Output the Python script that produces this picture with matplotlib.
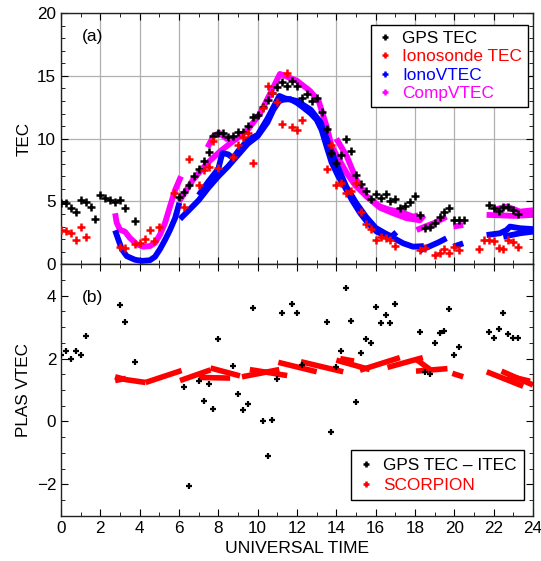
import matplotlib
matplotlib.use("Agg")
import matplotlib.pyplot as plt
from matplotlib.lines import Line2D
from matplotlib.ticker import MultipleLocator

plt.rcParams['font.family'] = ['Liberation Sans', 'DejaVu Sans']

# ---------------- data: panel (a) ----------------
gps_t = [0, 0.25, 0.5, 0.75, 1.0, 1.25, 1.5, 1.75,
         2.0, 2.25, 2.5, 2.75, 3.0, 3.25, 3.75,
         6.0, 6.25, 6.5, 6.75, 7.0, 7.25, 7.5, 7.75, 8.0, 8.25, 8.5, 8.75, 9.0, 9.25,
         9.5, 9.75, 10.0, 10.25, 10.5, 10.75, 11.0, 11.25, 11.5, 11.75, 12.0, 12.25,
         12.5, 12.75, 13.0,
         13.25, 13.5, 13.75, 14.0, 14.25, 14.5, 14.75, 15.0, 15.25, 15.5, 15.75, 16.0,
         16.25, 16.5, 16.75, 17.0, 17.25, 17.5, 17.75, 18.0, 18.25, 18.5, 18.75, 19.0,
         19.25, 19.5, 19.75, 20.0, 20.25, 20.5,
         21.75, 22.0, 22.25, 22.5, 22.75, 23.0, 23.25]
gps_v = [4.86, 4.91, 4.51, 4.17, 5.12, 4.94, 4.59, 3.61,
         5.52, 5.31, 5.10, 4.94, 5.10, 4.46, 3.47,
         5.39, 5.76, 6.34, 7.04, 7.62, 8.23, 8.95, 10.22, 10.44, 10.44, 10.12, 10.22, 10.49, 10.49,
         11.02, 11.71, 11.90, 12.51, 13.09, 13.65, 14.10, 14.53, 14.20, 14.58, 14.20, 13.27,
         13.55, 13.00, 13.27,
         12.16, 10.80, 8.84, 8.05, 8.71, 9.96, 9.03, 7.14, 6.40, 5.84, 5.20, 5.60,
         5.26, 5.58, 5.04, 5.20, 4.46, 4.67, 4.99, 5.42, 3.93, 2.87, 3.00, 3.31,
         3.75, 4.17, 4.49, 3.51, 3.51, 3.51,
         4.75, 4.46, 4.25, 4.59, 4.59, 4.30, 4.03]

iono_t = [0, 0.25, 0.5, 0.75, 1.0, 1.25, 3.0, 3.25, 3.75, 4.0, 4.25, 4.5, 4.75, 5.0,
          5.75, 6.25, 6.5, 7.0, 7.25, 7.5, 7.75, 8.0, 8.75, 9.0, 9.25, 9.5, 9.75,
          10.25, 10.5, 10.75, 11.0, 11.25, 11.5, 11.75, 12.0, 12.25,
          13.5, 13.75, 14.0, 14.25, 14.5, 14.75, 15.0, 15.25, 15.5, 15.75, 16.0, 16.25,
          16.5, 16.75, 17.0, 18.25, 18.5, 19.0, 19.25, 19.5, 19.75, 20.0, 20.25,
          21.25, 21.5, 21.75, 22.0, 22.25, 22.5, 22.75, 23.0, 23.25]
iono_v = [2.73, 2.65, 2.52, 1.94, 3.00, 2.20, 1.40, 1.30, 1.64, 1.67, 1.99, 2.70, 1.83, 3.00,
          5.70, 4.59, 8.40, 6.30, 7.51, 7.74, 9.80, 7.70, 8.50, 9.51, 10.10, 10.44, 8.10,
          12.43, 14.20, 13.60, 12.90, 11.13, 15.22, 10.94, 10.70, 11.52,
          7.58, 9.51, 6.30, 6.50, 5.71, 5.80, 6.50, 4.19, 3.20, 2.78, 1.90, 2.20,
          2.13, 1.96, 1.48, 1.15, 1.30, 0.74, 0.88, 1.24, 0.88, 1.38, 1.12,
          1.20, 1.94, 1.94, 1.88, 1.27, 1.24, 1.94, 1.78, 1.38]

# IonoVTEC tracks (time, TEC)
ionovtec_tracks = [
    [(2.75, 2.70), (2.92, 1.94), (3.09, 1.20), (3.34, 0.65), (3.76, 0.36), (4.10, 0.27),
     (4.52, 0.32), (4.78, 0.60), (5.03, 1.20), (5.29, 1.94), (5.54, 2.73), (5.80, 3.67),
     (6.02, 4.90)],
    [(6.05, 3.60), (6.50, 4.30), (7.00, 5.10), (7.50, 6.10), (8.00, 7.00), (8.50, 7.80),
     (9.00, 8.70), (9.50, 9.60), (10.00, 10.20), (10.50, 11.30), (10.80, 12.30),
     (11.10, 13.00), (11.30, 13.10), (11.65, 13.15), (12.00, 12.85), (12.30, 12.50),
     (12.70, 12.00), (13.00, 11.50), (13.25, 10.70), (13.50, 9.40), (13.76, 8.10),
     (14.10, 7.00), (14.45, 6.10), (14.80, 5.10), (15.20, 4.10), (15.60, 3.30),
     (16.05, 2.60), (16.40, 2.35), (16.80, 2.20), (17.05, 2.55)],
    [(7.00, 5.50), (7.50, 6.60), (8.00, 7.60), (8.20, 8.85), (8.50, 8.75), (8.75, 8.45),
     (9.00, 9.00), (9.50, 9.90), (10.00, 10.30), (10.50, 11.60), (10.90, 12.80),
     (11.10, 13.40), (11.40, 13.20), (12.00, 13.00), (12.70, 12.30), (13.20, 11.30),
     (13.60, 9.60), (14.00, 8.00), (14.50, 6.20), (15.00, 4.90), (15.50, 3.80),
     (16.00, 2.90), (16.50, 2.45), (16.90, 2.15)],
    [(16.90, 2.10), (17.40, 1.67), (17.90, 1.40), (18.45, 1.45)],
    [(18.25, 1.10), (18.70, 1.40), (19.20, 1.75), (19.60, 2.07)],
    [(19.95, 1.40), (20.45, 1.67)],
    [(21.64, 2.33), (22.32, 2.47), (22.66, 2.73), (22.83, 3.00), (23.34, 2.87), (24.0, 2.80)],
    [(22.49, 2.20), (23.34, 2.47), (24.0, 2.60)],
]

# CompVTEC tracks (time, TEC)
compvtec_tracks = [
    [(2.75, 4.06), (2.83, 3.30), (3.00, 2.75), (3.25, 2.60), (3.50, 2.10), (3.85, 1.60),
     (4.18, 1.40), (4.52, 1.45), (4.78, 1.70), (5.03, 2.35), (5.29, 3.30), (5.54, 4.60),
     (5.80, 5.90), (6.10, 7.00)],
    [(6.00, 5.00), (6.70, 6.70), (7.40, 8.00), (8.10, 9.00), (8.75, 9.80), (9.44, 10.60),
     (10.12, 12.00), (10.80, 14.10), (11.13, 15.15), (11.47, 14.95), (12.00, 14.60),
     (12.66, 13.80), (13.10, 13.00), (13.50, 11.00), (13.76, 9.40), (14.53, 7.25),
     (14.95, 6.30), (15.54, 5.40), (16.22, 4.60), (16.73, 4.33), (17.23, 4.19),
     (17.91, 3.79), (18.17, 3.90)],
    [(7.45, 9.30), (7.75, 10.20), (8.05, 10.45), (8.50, 9.90)],
    [(14.00, 10.00), (14.53, 8.60), (15.03, 6.70), (15.54, 5.40), (16.22, 4.50),
     (16.90, 4.06), (17.57, 3.67), (18.25, 3.50), (18.45, 3.90)],
    [(18.08, 2.73), (18.50, 3.00), (19.00, 3.30), (19.60, 3.79)],
    [(19.95, 3.00), (20.45, 3.13)],
    [(21.64, 3.93), (22.30, 3.90), (23.00, 3.85), (24.00, 3.93)],
    [(21.98, 4.33), (22.66, 4.59), (23.00, 4.40), (23.34, 4.19), (24.00, 4.30)],
]

# ---------------- data: panel (b) ----------------
diff_t = [0, 0.25, 0.5, 0.75, 1.0, 1.25, 3.0, 3.25, 3.75,
          6.25, 6.5, 7.0, 7.25, 7.5, 7.75, 8.0, 8.75, 9.0, 9.25, 9.5, 9.75,
          10.25, 10.5, 10.75, 11.0, 11.25, 11.75, 12.0, 12.25,
          13.5, 13.75, 14.0, 14.25, 14.5, 14.75, 15.0, 15.25, 15.5, 15.75, 16.0,
          16.25, 16.5, 16.75, 17.0,
          18.25, 18.5, 18.75, 19.0, 19.25, 19.5, 19.75, 20.0, 20.25,
          21.75, 22.0, 22.25, 22.5, 22.75, 23.0, 23.25]
diff_v = [2.10, 2.25, 1.98, 2.24, 2.12, 2.73, 3.70, 3.17, 1.88,
          1.11, -2.07, 1.30, 0.66, 1.20, 0.41, 2.62, 1.75, 0.88, 0.35, 0.54, 3.60,
          0.02, -1.11, 0.06, 1.35, 3.45, 3.75, 3.44, 1.78,
          3.17, -0.35, 1.74, 2.23, 4.24, 3.20, 0.61, 2.17, 2.61, 2.49, 3.65,
          3.12, 3.38, 3.12, 3.74,
          2.85, 1.56, 1.51, 2.49, 2.82, 2.89, 3.59, 2.10, 2.38,
          2.84, 2.67, 2.93, 3.44, 2.79, 2.65, 2.65]

# SCORPION tracks (time, PLAS VTEC)
scorpion_tracks = [
    [(2.75, 1.42), (3.30, 1.33), (4.30, 1.24)],
    [(2.75, 1.30), (3.30, 1.37)],
    [(4.30, 1.24), (6.13, 1.62)],
    [(6.05, 1.30), (7.60, 1.64)],
    [(7.60, 1.70), (9.10, 1.45)],
    [(7.00, 1.40), (8.60, 1.38)],
    [(9.20, 1.42), (11.10, 1.65)],
    [(9.60, 1.65), (11.50, 1.46)],
    [(11.05, 1.88), (13.00, 1.58)],
    [(12.20, 1.90), (14.35, 1.58)],
    [(14.00, 1.95), (15.70, 1.65)],
    [(14.20, 2.00), (14.90, 1.92)],
    [(15.20, 1.63), (17.23, 2.03)],
    [(16.60, 1.72), (18.40, 2.03)],
    [(18.05, 1.98), (18.75, 1.66)],
    [(18.05, 1.60), (19.65, 1.68)],
    [(19.90, 1.53), (20.45, 1.42)],
    [(21.65, 1.58), (23.50, 1.12)],
    [(22.40, 1.60), (24.00, 1.16)],
    [(22.70, 1.45), (23.85, 1.28)],
]

BLUE = '#0000ff'
MAG = '#ff00ff'
RED = '#ff0000'

fig = plt.figure(figsize=(5.41, 5.61), dpi=100)
ax1 = fig.add_axes([0.1128, 0.5289, 0.8724, 0.4479])
ax2 = fig.add_axes([0.1128, 0.0807, 0.8724, 0.4482])

# ---- panel (a)
for tr in ionovtec_tracks:
    xs, ys = zip(*tr)
    ax1.plot(xs, ys, color=BLUE, lw=4.2, solid_capstyle='butt', zorder=3)
for tr in compvtec_tracks:
    xs, ys = zip(*tr)
    ax1.plot(xs, ys, color=MAG, lw=4.2, solid_capstyle='butt', zorder=2)
ax1.plot(gps_t, gps_v, ls='none', marker='+', color='black', ms=6, mew=1.8, zorder=4)
ax1.plot(iono_t, iono_v, ls='none', marker='+', color=RED, ms=6, mew=1.8, zorder=5)

ax1.set_xlim(0, 24)
ax1.set_ylim(0, 20)
ax1.xaxis.set_major_locator(MultipleLocator(2))
ax1.xaxis.set_minor_locator(MultipleLocator(1))
ax1.yaxis.set_major_locator(MultipleLocator(5))
ax1.yaxis.set_minor_locator(MultipleLocator(1))
ax1.grid(True, which='major', color='#b0b0b0', lw=0.9)
ax1.set_axisbelow(True)
ax1.tick_params(labelbottom=False)
ax1.set_ylabel('TEC', fontsize=12.3)
ax1.text(0.045, 0.89, '(a)', transform=ax1.transAxes, fontsize=12.5)

h1 = [Line2D([], [], ls='none', marker='+', color=c, ms=5, mew=1.8)
      for c in ['black', RED, BLUE, MAG]]
leg1 = ax1.legend(h1, ['GPS TEC', 'Ionosonde TEC', 'IonoVTEC', 'CompVTEC'],
                  loc='upper right', bbox_to_anchor=(0.99, 0.953), fontsize=12.4,
                  fancybox=False, framealpha=1, edgecolor='black',
                  handlelength=0.9, handletextpad=0.55, borderpad=0.35,
                  labelspacing=0.2, borderaxespad=0.0)
leg1.get_frame().set_linewidth(1.0)
for txt, c in zip(leg1.get_texts(), ['black', RED, BLUE, MAG]):
    txt.set_color(c)

# ---- panel (b)
for tr in scorpion_tracks:
    xs, ys = zip(*tr)
    ax2.plot(xs, ys, color=RED, lw=4.0, solid_capstyle='butt', zorder=2)
ax2.plot(diff_t, diff_v, ls='none', marker='+', color='black', ms=5, mew=1.6, zorder=3)

ax2.set_xlim(0, 24)
ax2.set_ylim(-3, 5)
ax2.xaxis.set_major_locator(MultipleLocator(2))
ax2.xaxis.set_minor_locator(MultipleLocator(1))
ax2.yaxis.set_major_locator(MultipleLocator(2))
ax2.yaxis.set_minor_locator(MultipleLocator(0.5))
ax2.set_ylabel('PLAS VTEC', fontsize=12.3)
ax2.set_xlabel('UNIVERSAL TIME', fontsize=12.6)
ax2.text(0.045, 0.85, '(b)', transform=ax2.transAxes, fontsize=12.5)

h2 = [Line2D([], [], ls='none', marker='+', color=c, ms=5, mew=1.8)
      for c in ['black', RED]]
leg2 = ax2.legend(h2, ['GPS TEC \u2013 ITEC', 'SCORPION'],
                  loc='lower right', bbox_to_anchor=(0.981, 0.062), fontsize=12.4,
                  fancybox=False, framealpha=1, edgecolor='black',
                  handlelength=0.9, handletextpad=0.55, borderpad=0.42,
                  labelspacing=0.3, borderaxespad=0.0)
leg2.get_frame().set_linewidth(1.0)
for txt, c in zip(leg2.get_texts(), ['black', RED]):
    txt.set_color(c)

for ax in (ax1, ax2):
    ax.tick_params(which='both', direction='in', top=True, right=True, labelsize=12.3)
    ax.tick_params(which='major', length=5)
    ax.tick_params(which='minor', length=3)
    for s in ax.spines.values():
        s.set_linewidth(1.0)
        s.set_color('#222222')

fig.savefig('out.png', dpi=100)
